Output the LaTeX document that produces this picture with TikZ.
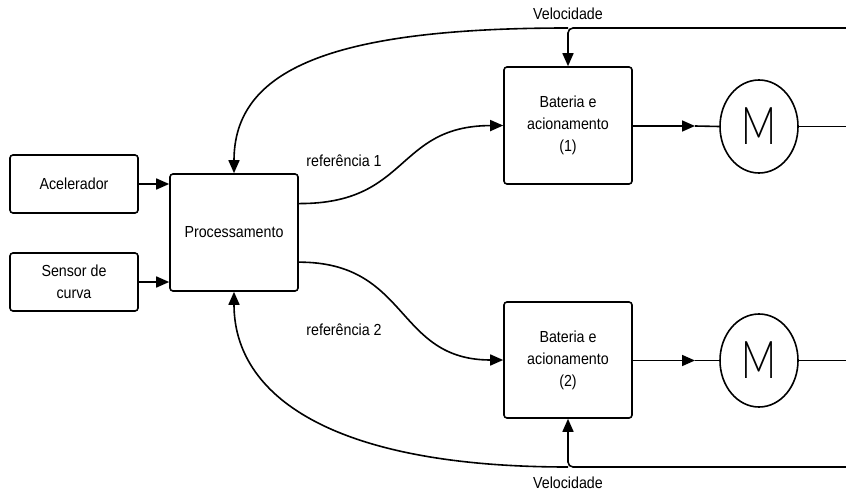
\documentclass[tikz,border=0pt]{standalone}
\usepackage{fontspec}
\setmainfont{Liberation Sans}[FakeStretch=0.89]
\newfontfamily\mfont{Lato Light}[FakeStretch=0.74]
\usetikzlibrary{arrows.meta,shapes.geometric,calc}
\begin{document}
\begin{tikzpicture}[x=1pt,y=-1pt,
  every node/.style={font=\fontsize{16}{22}\selectfont},
  blk/.style={draw,line width=1.6pt,rounded corners=3pt,minimum width=128pt,align=center,inner sep=0pt},
  motor/.style={draw,ellipse,line width=1.6pt,minimum width=78pt,minimum height=93pt,inner sep=0pt,font=\mfont\fontsize{52}{52}\selectfont},
  wire/.style={line width=1.6pt},
  arr/.style={wire,-{Triangle[length=13pt,width=11pt]}},
  lbl/.style={inner sep=0pt}]
\useasboundingbox (0,0) rectangle (846,495);

\node[blk,minimum height=58pt] (acel) at (74,184) {Acelerador};
\node[blk,minimum height=58pt] (sens) at (74,282) {Sensor de\\curva};
\node[blk,minimum height=117pt] (proc) at (234,232.5) {Processamento};
\node[blk,minimum height=117pt] (b1) at (568,125.5) {Bateria e\\acionamento\\(1)};
\node[blk,minimum height=116pt] (b2) at (568,360) {Bateria e\\acionamento\\(2)};
\node[motor] (m1) at (759,126.5) {M};
\node[motor] (m2) at (759,360.5) {M};

\node[lbl] (vel1) at (568,14) {Velocidade};
\node[lbl] (vel2) at (568,483) {Velocidade};
\node[lbl] (ref1) at (344,161) {referência 1};
\node[lbl] (ref2) at (344,330) {referência 2};

% inputs
\draw[arr] (acel.east) -- (acel.east -| proc.west);
\draw[arr] (sens.east) -- (sens.east -| proc.west);

% references
\coordinate (p1) at ($(proc.north east)!0.256!(proc.south east)$);
\coordinate (p2) at ($(proc.north east)!0.75!(proc.south east)$);
\draw[arr] (p1) .. controls (410,204) and (395,126) .. (b1.west);
\draw[arr] (p2) .. controls (410,262) and (395,360) .. (b2.west);

% battery to motor
\coordinate (a1) at (695,126);
\coordinate (a2) at (695,360.5);
\draw[arr] (b1.east |- a1) -- (a1);
\draw[wire] (a1) -- (m1.west);
\draw[arr] (b2.east |- a2) -- (a2);
\draw[wire] (a2) -- (m2.west);
\coordinate (o1) at (846,126.5);
\coordinate (o2) at (846,360.5);
\draw[wire] (m1.east) -- (o1);
\draw[wire] (m2.east) -- (o2);

% speed feedback top
\coordinate (rt) at (846,28);
\coordinate (vt) at (568,28);
\draw[arr,rounded corners=5pt] (rt) -- (vt) -- (b1.north);
\draw[arr] (vt) .. controls (330,28) and (234,70) .. (proc.north);

% speed feedback bottom
\coordinate (rb) at (846,467);
\coordinate (vb) at (568,467);
\draw[arr,rounded corners=5pt] (rb) -- (vb) -- (b2.south);
\draw[arr] (vb) .. controls (330,467) and (234,395) .. (proc.south);
\end{tikzpicture}
\end{document}
